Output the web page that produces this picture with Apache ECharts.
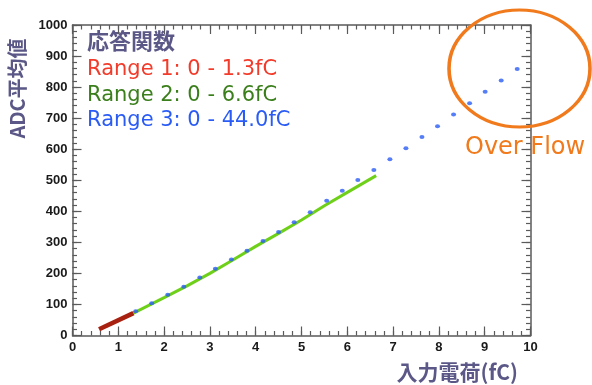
<!DOCTYPE html>
<html><head><meta charset="utf-8">
<script src="https://cdn.jsdelivr.net/npm/echarts@6/dist/echarts.min.js"></script>
<style>html,body{margin:0;padding:0;background:#fff}#c{width:592px;height:385px}</style>
</head><body><div id="c"></div>
<script>
// Data
const rangeLabels = ['Range 1: 0 - 1.3fC', 'Range 2: 0 - 6.6fC', 'Range 3: 0 - 44.0fC'];
const titleText = '応答関数';
const xTitle = '入力電荷(fC)';
const yTitle = 'ADC平均値';
const overflowText = 'Over Flow';
const range1X = [0.58, 1.33];
const range1Y = [20, 72];
const range2X = [1.33, 2.0, 2.5, 3.0, 3.5, 4.0, 4.5, 5.0, 5.5, 6.0, 6.63];
const range2Y = [72, 122, 160, 200, 243, 287, 329, 372, 418, 461, 515];
const range3X = [1.38, 1.73, 2.08, 2.43, 2.78, 3.12, 3.47, 3.81, 4.16, 4.50, 4.84, 5.19, 5.55, 5.89, 6.23, 6.58, 6.93, 7.28, 7.63, 7.97, 8.32, 8.67, 9.01, 9.36, 9.71];
const range3Y = [78, 104, 131, 157, 187, 215, 245, 273, 304, 333, 365, 397, 434, 466, 501, 533, 568, 603, 639, 674, 712, 748, 785, 821, 858];
const overflowCenter = [9.76, 860];

const zip = (a, b) => a.map((v, i) => [v, b[i]]);
const axisColor = '#5a5a5a';
const labelFont = {fontFamily: 'Liberation Sans, Arial, sans-serif', fontWeight: 'bold', fontSize: 13, color: '#1a1a1a'};
const purple = '#5b5887';
const sans = '"DejaVu Sans", "Liberation Sans", sans-serif';
const cjk = '"Noto Sans CJK JP", sans-serif';

const chart = echarts.init(document.getElementById('c'), null, {renderer: 'canvas'});
function axis(min, max, interval, position, major, showLabel) {
  return {
    type: 'value', min: min, max: max, interval: interval, position: position,
    axisLine: {show: major, onZero: false, lineStyle: {color: axisColor, width: 1.5}},
    axisTick: {show: true, inside: true, length: major ? 9 : 4.5, lineStyle: {color: axisColor, width: 1.2}},
    axisLabel: showLabel ? Object.assign({margin: 5, formatter: v => String(v)}, labelFont) : {show: false},
    splitLine: {show: false}
  };
}
chart.setOption({
  animation: false,
  grid: {left: 72.5, right: 61.5, top: 25, bottom: 49.5},
  xAxis: [
    axis(0, 10, 1, 'bottom', true, true),
    axis(0, 10, 1, 'top', true, false),
    axis(0, 10, 0.2, 'bottom', false, false),
    axis(0, 10, 0.2, 'top', false, false)
  ],
  yAxis: [
    axis(0, 1000, 100, 'left', true, true),
    axis(0, 1000, 100, 'right', true, false),
    axis(0, 1000, 20, 'left', false, false),
    axis(0, 1000, 20, 'right', false, false)
  ],
  series: [
    {type: 'line', data: zip(range2X, range2Y), showSymbol: false, symbol: 'none',
     lineStyle: {color: '#6fd01a', width: 3}, z: 3},
    {type: 'line', data: zip(range1X, range1Y), showSymbol: false, symbol: 'none',
     lineStyle: {color: '#a8200f', width: 4.5}, z: 4},
    {type: 'scatter', data: zip(range3X, range3Y), symbol: 'circle', symbolSize: [5, 4],
     itemStyle: {color: '#2a5cf5'}, z: 5}
  ]
});
const c = chart.convertToPixel({xAxisIndex: 0, yAxisIndex: 0}, overflowCenter);
const rx = 70.5, ry = 58.5;
chart.setOption({
  graphic: [
    {type: 'text', left: 87, top: 30, style: {text: titleText, fill: purple, font: 'bold 22px ' + cjk}},
    {type: 'text', x: 87, y: 70, style: {text: rangeLabels[0], fill: '#f23b2a', verticalAlign: 'middle', font: '21px ' + sans}},
    {type: 'text', x: 87, y: 96, style: {text: rangeLabels[1], fill: '#3b7f1c', verticalAlign: 'middle', font: '21px ' + sans}},
    {type: 'text', x: 87, y: 121, style: {text: rangeLabels[2], fill: '#2a5cf5', verticalAlign: 'middle', font: '21px ' + sans}},
    {type: 'text', x: 17, y: 88.5, rotation: Math.PI / 2, style: {text: yTitle, fill: purple, align: 'center', verticalAlign: 'middle', font: 'bold 20px ' + cjk}},
    {type: 'text', x: 518, y: 372, style: {text: xTitle, fill: purple, align: 'right', verticalAlign: 'middle', font: 'bold 21px ' + cjk}},
    {type: 'circle', x: c[0], y: c[1], scaleX: rx / ry, scaleY: 1, shape: {cx: 0, cy: 0, r: ry},
     style: {fill: 'none', stroke: '#f07a1c', lineWidth: 3, strokeNoScale: true}, z: 10},
    {type: 'text', x: 465, y: 148, z: -1, style: {text: overflowText, fill: '#f07a1c', verticalAlign: 'middle', font: '24px ' + sans}}
  ]
});
</script></body></html>
